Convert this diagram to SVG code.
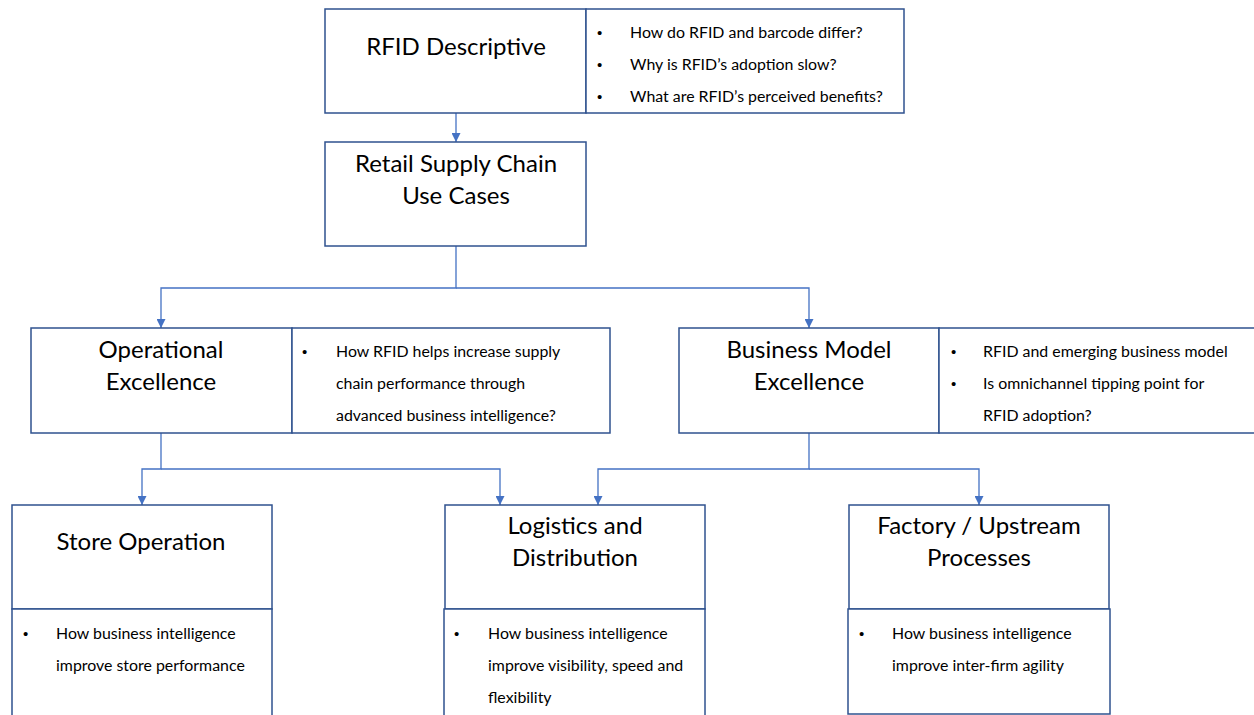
<svg xmlns="http://www.w3.org/2000/svg" width="1254" height="715" viewBox="0 0 1254 715">
  <defs>
    <style>
      .box { fill: #ffffff; stroke: #2f528f; stroke-width: 1.5; }
      .link { fill: none; stroke: #4472c4; stroke-width: 1.3; }
      .title { font-family: Lato, "Liberation Sans", sans-serif; font-size: 24px; fill: #000; text-anchor: middle; }
      .item { font-family: Lato, "Liberation Sans", sans-serif; font-size: 15.9px; fill: #000; }
      .dot { font-family: "Liberation Sans", sans-serif; font-size: 15px; fill: #000; }
    </style>
    <marker id="arrow" viewBox="0 0 10 10" refX="10" refY="5" markerWidth="9" markerHeight="9" markerUnits="userSpaceOnUse" orient="auto">
      <path d="M0,0 L10,5 L0,10 z" fill="#4472c4"/>
    </marker>
  </defs>

  <rect width="1254" height="715" fill="#ffffff"/>

  <!-- connectors -->
  <g id="connectors">
    <path class="link" d="M456,113 V142" marker-end="url(#arrow)"/>
    <path class="link" d="M456,246 V288 H161 V328" marker-end="url(#arrow)"/>
    <path class="link" d="M456,288 H809 V328" marker-end="url(#arrow)"/>
    <path class="link" d="M161,433 V469 H142 V505" marker-end="url(#arrow)"/>
    <path class="link" d="M161,469 H500 V505" marker-end="url(#arrow)"/>
    <path class="link" d="M809,433 V469 H598 V505" marker-end="url(#arrow)"/>
    <path class="link" d="M809,469 H979 V505" marker-end="url(#arrow)"/>
  </g>

  <!-- RFID Descriptive -->
  <g id="rfid-descriptive">
    <rect class="box" x="325" y="9" width="261" height="104"/>
    <rect class="box" x="586" y="9" width="318" height="104"/>
    <text class="title" x="456" y="55">RFID Descriptive</text>
    <text class="dot" x="597" y="38">•</text>
    <text class="item" x="630" y="38">How do RFID and barcode differ?</text>
    <text class="dot" x="597" y="70">•</text>
    <text class="item" x="630" y="70">Why is RFID’s adoption slow?</text>
    <text class="dot" x="597" y="102">•</text>
    <text class="item" x="630" y="102">What are RFID’s perceived benefits?</text>
  </g>

  <!-- Retail Supply Chain Use Cases -->
  <g id="use-cases">
    <rect class="box" x="325" y="142" width="261" height="104"/>
    <text class="title" x="456" y="172">Retail Supply Chain</text>
    <text class="title" x="456" y="204">Use Cases</text>
  </g>

  <!-- Operational Excellence -->
  <g id="operational-excellence">
    <rect class="box" x="31" y="328" width="261" height="105"/>
    <rect class="box" x="292" y="328" width="318" height="105"/>
    <text class="title" x="161" y="358">Operational</text>
    <text class="title" x="161" y="390">Excellence</text>
    <text class="dot" x="302" y="357">•</text>
    <text class="item" x="336" y="357">How RFID helps increase supply</text>
    <text class="item" x="336" y="389">chain performance through</text>
    <text class="item" x="336" y="421">advanced business intelligence?</text>
  </g>

  <!-- Business Model Excellence -->
  <g id="business-model-excellence">
    <rect class="box" x="679" y="328" width="260" height="105"/>
    <rect class="box" x="939" y="328" width="330" height="105"/>
    <text class="title" x="809" y="358">Business Model</text>
    <text class="title" x="809" y="390">Excellence</text>
    <text class="dot" x="951" y="357">•</text>
    <text class="item" x="983" y="357">RFID and emerging business model</text>
    <text class="dot" x="951" y="389">•</text>
    <text class="item" x="983" y="389">Is omnichannel tipping point for</text>
    <text class="item" x="983" y="421">RFID adoption?</text>
  </g>

  <!-- Store Operation -->
  <g id="store-operation">
    <rect class="box" x="12" y="505" width="260" height="104"/>
    <rect class="box" x="12" y="609" width="260" height="115"/>
    <text class="title" x="141" y="550">Store Operation</text>
    <text class="dot" x="23" y="639">•</text>
    <text class="item" x="56" y="639">How business intelligence</text>
    <text class="item" x="56" y="671">improve store performance</text>
  </g>

  <!-- Logistics and Distribution -->
  <g id="logistics-distribution">
    <rect class="box" x="445" y="505" width="260" height="104"/>
    <rect class="box" x="444" y="609" width="261" height="115"/>
    <text class="title" x="575" y="534">Logistics and</text>
    <text class="title" x="575" y="566">Distribution</text>
    <text class="dot" x="454" y="639">•</text>
    <text class="item" x="488" y="639">How business intelligence</text>
    <text class="item" x="488" y="671">improve visibility, speed and</text>
    <text class="item" x="488" y="703">flexibility</text>
  </g>

  <!-- Factory / Upstream Processes -->
  <g id="factory-upstream">
    <rect class="box" x="849" y="505" width="260" height="104"/>
    <rect class="box" x="848" y="609" width="262" height="105"/>
    <text class="title" x="979" y="534">Factory / Upstream</text>
    <text class="title" x="979" y="566">Processes</text>
    <text class="dot" x="859" y="639">•</text>
    <text class="item" x="892" y="639">How business intelligence</text>
    <text class="item" x="892" y="671">improve inter-firm agility</text>
  </g>
</svg>
